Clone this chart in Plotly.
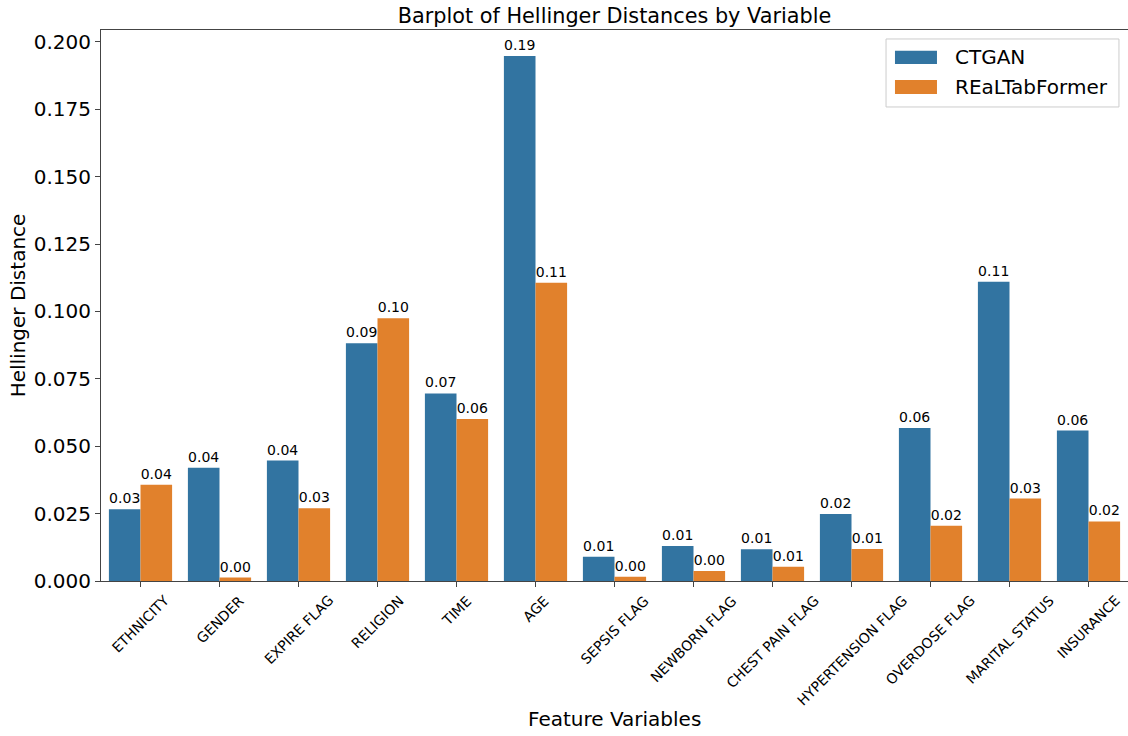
import plotly.graph_objects as go

# Hellinger distance per feature for each synthesizer
variables = [
    "ETHNICITY", "GENDER", "EXPIRE FLAG", "RELIGION", "TIME", "AGE",
    "SEPSIS FLAG", "NEWBORN FLAG", "CHEST PAIN FLAG", "HYPERTENSION FLAG",
    "OVERDOSE FLAG", "MARITAL STATUS", "INSURANCE",
]
ctgan = [0.0266, 0.0420, 0.0447, 0.0882, 0.0696, 0.1948,
         0.0090, 0.0130, 0.0118, 0.0249, 0.0568, 0.1110, 0.0558]
realtabformer = [0.0357, 0.0013, 0.0270, 0.0975, 0.0601, 0.1106,
                 0.0016, 0.0037, 0.0053, 0.0119, 0.0205, 0.0306, 0.0221]
series_names = ["CTGAN", "REaLTabFormer"]
y_ticks = [0.0, 0.025, 0.05, 0.075, 0.1, 0.125, 0.15, 0.175, 0.2]

FONT = "DejaVu Sans"
COLORS = ["#3274a1", "#e1812c"]
AXIS = "#444444"

fig = go.Figure()
for name, vals, color in zip(series_names, [ctgan, realtabformer], COLORS):
    fig.add_trace(go.Bar(
        name=name,
        x=variables,
        y=vals,
        marker=dict(color=color, line=dict(width=0)),
        texttemplate="%{y:.2f}",
        textposition="outside",
        textfont=dict(family=FONT, size=14, color="black"),
        constraintext="none",
        cliponaxis=False,
        showlegend=False,
    ))

# rotated category labels, centred under each tick
for v in variables:
    fig.add_annotation(
        x=v, xref="x", y=-0.016, yref="paper",
        text=v, textangle=-45, showarrow=False,
        xanchor="center", yanchor="top",
        font=dict(family=FONT, size=14, color="black"),
    )

fig.add_annotation(
    x=0.5, xref="paper", y=-0.2505, yref="paper",
    text="Feature Variables", showarrow=False,
    xanchor="center", yanchor="middle",
    font=dict(family=FONT, size=20, color="black"),
)

# legend box in the upper right, with wide colour patches
fig.add_shape(
    type="rect", xref="paper", yref="paper",
    x0=0.7644, x1=0.9912, y0=0.8603, y1=0.9837,
    line=dict(color="#cccccc", width=1),
    fillcolor="rgba(255,255,255,0.8)", layer="above",
)
patch_y = [(0.9383, 0.9625), (0.8838, 0.9093)]
text_y = [0.9510, 0.8965]
for name, color, (py0, py1), ty in zip(series_names, COLORS, patch_y, text_y):
    fig.add_shape(
        type="rect", xref="paper", yref="paper",
        x0=0.7731, x1=0.8140, y0=py0, y1=py1,
        line=dict(width=0), fillcolor=color, layer="above",
    )
    fig.add_annotation(
        x=0.8296, xref="paper", y=ty, yref="paper",
        text=name, showarrow=False,
        xanchor="left", yanchor="middle",
        font=dict(family=FONT, size=20, color="black"),
    )

fig.update_layout(
    width=1128, height=736,
    margin=dict(l=101, r=0, t=30, b=155),
    paper_bgcolor="white", plot_bgcolor="white",
    font=dict(family=FONT, color="black"),
    barmode="group", bargap=0.2, bargroupgap=0,
    title=dict(
        text="Barplot of Hellinger Distances by Variable",
        x=0.5, xref="paper", xanchor="center",
        y=1 - 16 / 736, yref="container", yanchor="middle",
        font=dict(family=FONT, size=20.8, color="black"),
    ),
    showlegend=False,
)

fig.update_xaxes(
    type="category", range=[-0.5, 12.5],
    showticklabels=False,
    ticks="outside", ticklen=5, tickcolor=AXIS, tickwidth=1,
    showline=True, linecolor=AXIS, linewidth=1, mirror=True,
    showgrid=False, zeroline=False,
)
fig.update_yaxes(
    range=[0, 0.2044],
    tickvals=y_ticks, tickformat=".3f",
    tickfont=dict(family=FONT, size=20, color="black"),
    ticks="outside", ticklen=5, tickcolor=AXIS, tickwidth=1,
    showline=True, linecolor=AXIS, linewidth=1, mirror=True,
    showgrid=False, zeroline=False,
    title=dict(text="Hellinger Distance", standoff=2,
               font=dict(family=FONT, size=20, color="black")),
)

fig.write_html("out.html")
